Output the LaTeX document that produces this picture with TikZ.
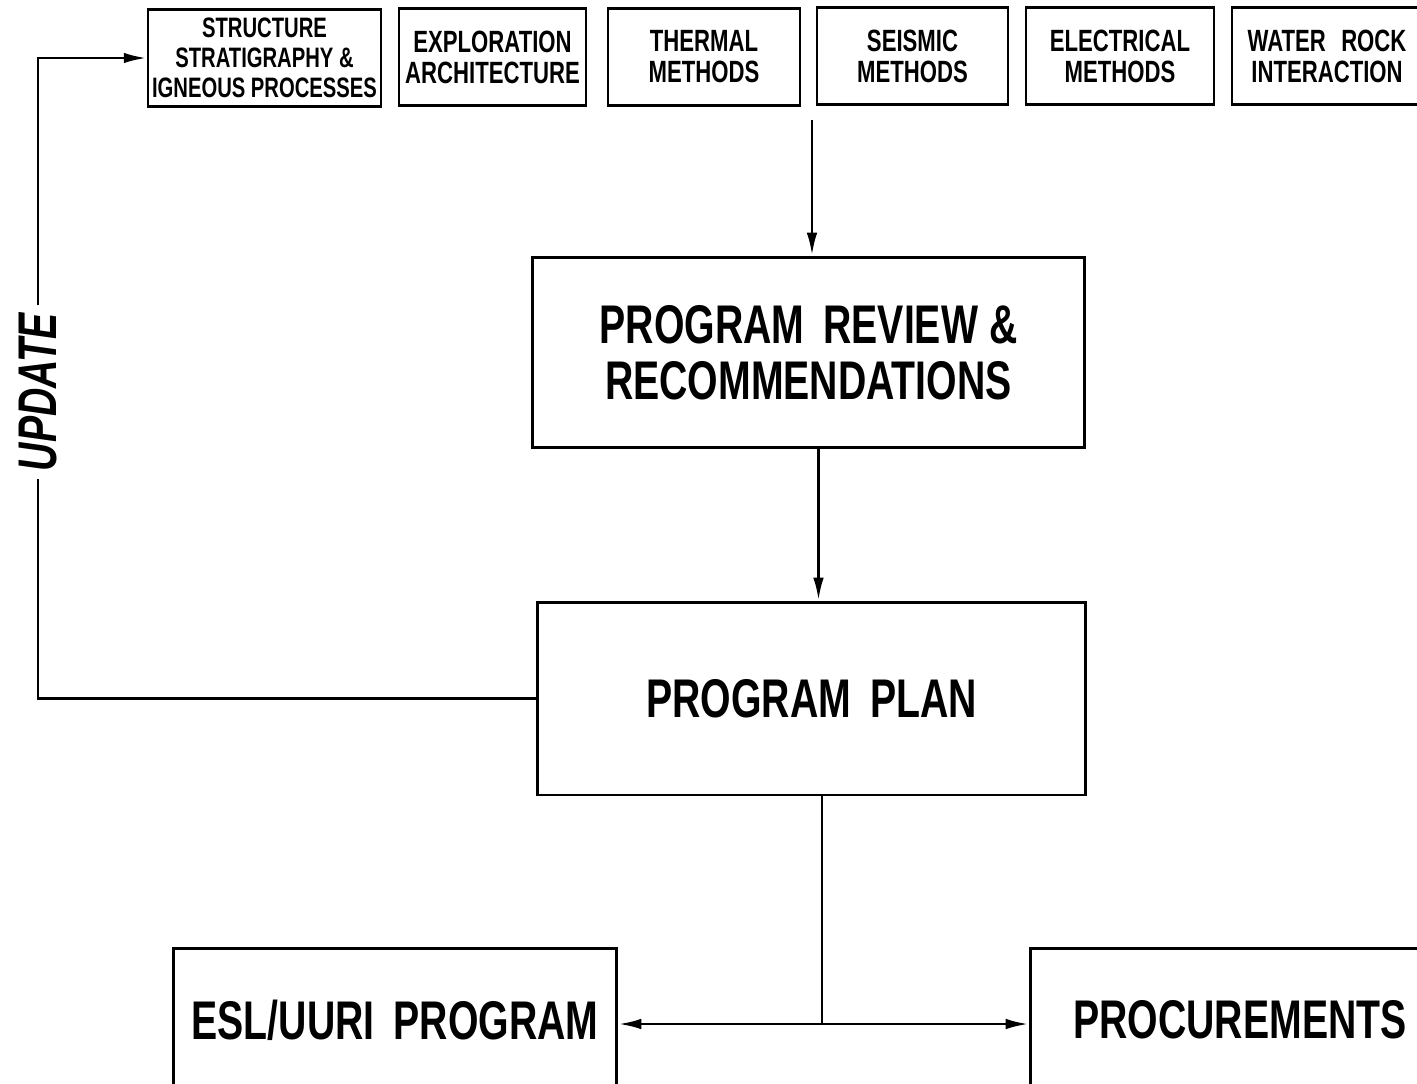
\documentclass[tikz,border=0pt]{standalone}
\usepackage{fontspec}
\newfontfamily\diagfont{Liberation Sans}[FakeStretch=0.72]
\usetikzlibrary{arrows.meta,calc}
\tikzset{>={Latex[length=13pt,width=6pt]}}
\tikzset{
  smallbox/.style={draw, line width=1.6pt, minimum height=1.94cm, inner sep=2pt, align=center,
    font=\diagfont\bfseries\fontsize{17.5}{17.6}\selectfont},
  bigbox/.style={draw, line width=1.7pt, align=center,
    font=\diagfont\bfseries\fontsize{31}{30}\selectfont},
  link/.style={line width=1.6pt}
}
\newcommand{\gap}{\hspace{0.35em}}

\begin{document}
\begin{tikzpicture}[x=0.02cm,y=-0.02cm]
        \useasboundingbox (0,0) rectangle (1417,1083);

        % Row of topic boxes along the top
        \node[smallbox, minimum width=4.66cm, font=\diagfont\bfseries\fontsize{16}{17}\selectfont] (structure) at (264.5,58) {STRUCTURE\\STRATIGRAPHY \&\\IGNEOUS PROCESSES};
        \node[smallbox, minimum width=3.74cm] (explore) at (492.5,57) {EXPLORATION\\ARCHITECTURE};
        \node[smallbox, minimum width=3.84cm] (thermal) at (704,57) {THERMAL\\METHODS};
        \node[smallbox, minimum width=3.82cm] (seismic) at (912.5,56) {SEISMIC\\METHODS};
        \node[smallbox, minimum width=3.76cm] (electric) at (1120,56) {ELECTRICAL\\METHODS};
        \node[smallbox, minimum width=3.8cm] (water) at (1327,56) {WATER\enspace ROCK\\INTERACTION};

        % Main column
        \node[bigbox, minimum width=11.06cm, minimum height=3.82cm] (review) at (808.5,352.5) {\strut PROGRAM\gap REVIEW \&\\RECOMMENDATIONS};
        \node[bigbox, minimum width=10.98cm, minimum height=3.86cm] (plan) at (811.5,698.5) {PROGRAM\gap PLAN};

        % Bottom boxes (cut by the page edge)
        \node[bigbox, minimum width=8.88cm, minimum height=2.88cm] (esl) at (395,1020) {ESL/UURI\gap PROGRAM};
        \node[bigbox, minimum width=8.4cm, minimum height=2.88cm] (proc) at (1240,1020) {PROCUREMENTS};

        % Connectors
        \coordinate (feed) at (812,120);
        \draw[link,->] (feed) -- (feed |- review.north);
        \draw[link,->] ([xshift=0.2cm]review.south) -- ([xshift=0.2cm]review.south |- plan.north);

        \coordinate (split) at (822,1024);
        \draw[link] (plan.south -| split) -- (split);
        \draw[link,->] (split) -- (split -| esl.east);
        \draw[link,->] (split) -- (split -| proc.west);

        % Update loop back to the top row
        \node[rotate=90, inner sep=4pt, font=\diagfont\bfseries\itshape\fontsize{31}{31}\selectfont] (update) at (38,392) {UPDATE};
        \draw[link] (plan.west) -- (plan.west -| update) -- (update.west);
        \draw[link,->] (update.east) -- (update |- structure.west) -- (structure.west);
\end{tikzpicture}
\end{document}
